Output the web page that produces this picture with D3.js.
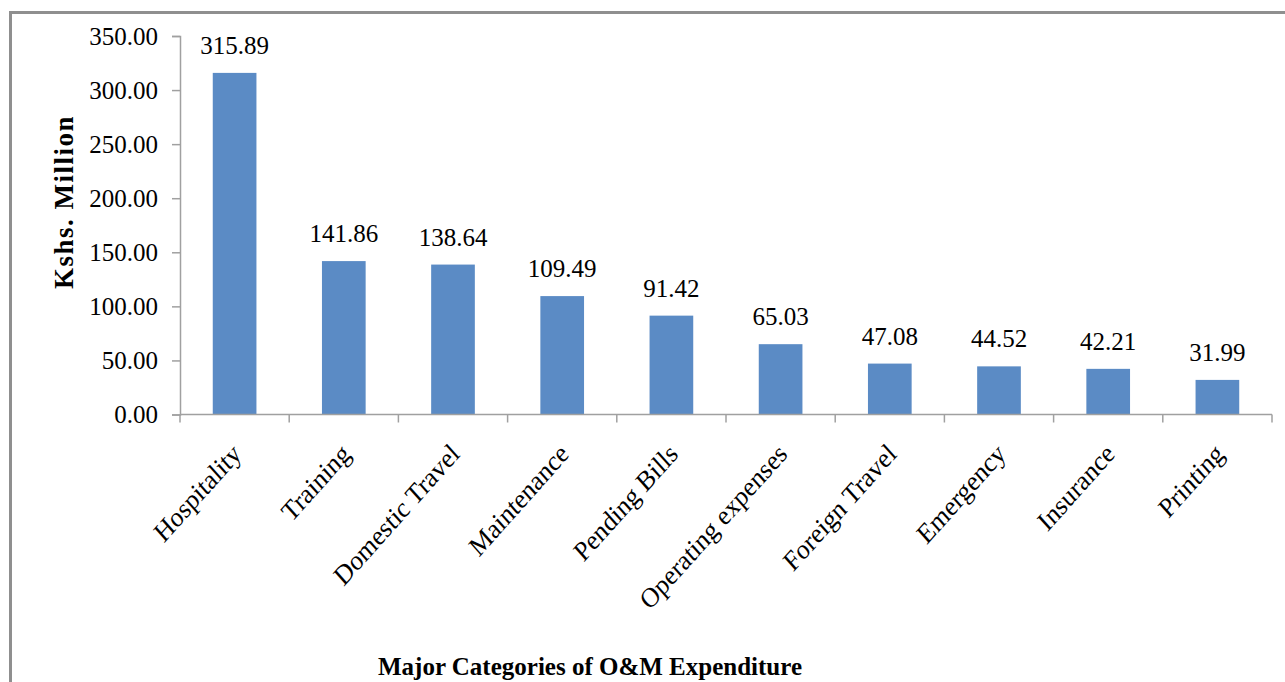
<!DOCTYPE html>
<html><head><meta charset="utf-8">
<script src="https://cdn.jsdelivr.net/npm/d3@7"></script>
<style>body{margin:0;background:#fff}svg{display:block}</style>
</head><body><svg id="c" width="1285" height="682"></svg>
<script>
const categories = ["Hospitality","Training","Domestic Travel","Maintenance","Pending Bills","Operating expenses","Foreign Travel","Emergency","Insurance","Printing"];
const values = [315.89,141.86,138.64,109.49,91.42,65.03,47.08,44.52,42.21,31.99];
const yTicks = [0,50,100,150,200,250,300,350];

(function(){
const svg = d3.select("#c");
const font = "'Liberation Serif','Times New Roman',serif";
svg.append("rect").attr("x",10.5).attr("y",12.5).attr("width",1290).attr("height",700)
  .attr("fill","#fff").attr("stroke","#8f8f8f").attr("stroke-width",3);

const pL=180,pR=1272,pT=36,pB=414.5;
const x = d3.scaleBand().domain(categories).range([pL,pR]).paddingInner(0.6).paddingOuter(0.3);
const y = d3.scaleLinear().domain([0,350]).range([pB,pT]);

svg.selectAll("rect.bar").data(values).join("rect").attr("class","bar")
  .attr("x",(d,i)=>x(categories[i])).attr("width",x.bandwidth())
  .attr("y",d=>y(d)).attr("height",d=>pB-y(d)).attr("fill","#5b8bc5");

const ya = svg.append("g").attr("transform",`translate(${pL},0)`)
  .call(d3.axisLeft(y).tickValues(yTicks).tickFormat(d3.format(".2f")).tickSizeOuter(0).tickSize(8).tickPadding(14));
ya.select(".domain").attr("stroke","#a0a0a0").attr("stroke-width",1.5);
ya.selectAll(".tick line").attr("stroke","#a0a0a0").attr("stroke-width",1.5);
ya.selectAll("text").attr("font-family",font).attr("font-size",25).attr("fill","#000").attr("dy","0.33em");

const xb = d3.scaleLinear().domain([0,categories.length]).range([pL,pR]);
const xa = svg.append("g").attr("transform",`translate(0,${pB})`);
xa.append("line").attr("x1",pL).attr("x2",pR).attr("stroke","#a0a0a0").attr("stroke-width",1.5);
xa.selectAll("line.t").data(d3.range(categories.length+1)).join("line").attr("class","t")
  .attr("x1",d=>xb(d)).attr("x2",d=>xb(d)).attr("y1",0).attr("y2",8)
  .attr("stroke","#a0a0a0").attr("stroke-width",1.5);
xa.selectAll("text").data(categories).join("text")
  .attr("transform",d=>`translate(${x(d)+x.bandwidth()/2+8},${41}) scale(1,1.12) rotate(-45)`)
  .attr("text-anchor","end").attr("font-family",font).attr("font-size",25).attr("fill","#000").text(d=>d);

svg.selectAll("text.lbl").data(values).join("text").attr("class","lbl")
  .attr("x",(d,i)=>x(categories[i])+x.bandwidth()/2).attr("y",d=>y(d)-19)
  .attr("text-anchor","middle").attr("font-family",font).attr("font-size",25).attr("fill","#000")
  .text(d=>d.toFixed(2));

svg.append("text").attr("transform","translate(73,202) rotate(-90)").attr("text-anchor","middle")
  .attr("font-family",font).attr("font-size",27).attr("font-weight","bold").attr("letter-spacing","1.5px").text("Kshs. Million");
svg.append("text").attr("x",590).attr("y",675).attr("text-anchor","middle")
  .attr("font-family",font).attr("font-size",25).attr("font-weight","bold").text("Major Categories of O&M Expenditure");
})();
</script></body></html>
